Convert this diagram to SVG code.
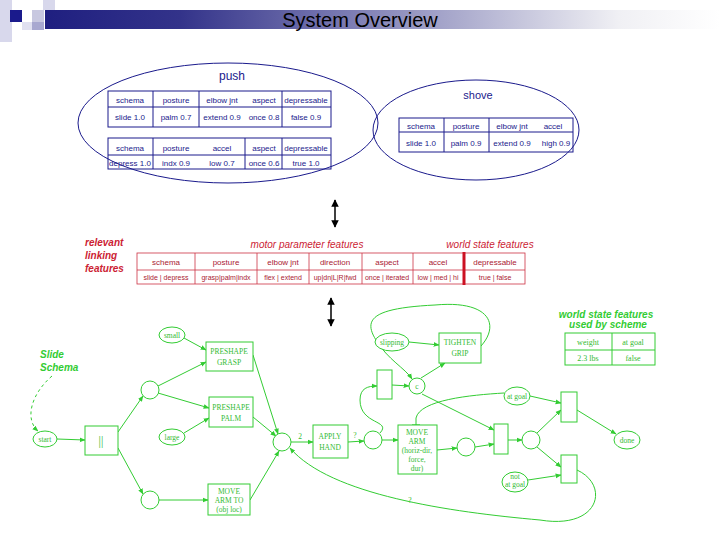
<svg xmlns="http://www.w3.org/2000/svg" width="720" height="540" viewBox="0 0 720 540">
<defs>
<linearGradient id="bar" x1="0" x2="1" y1="0" y2="0"><stop offset="0" stop-color="#1f1f80"/><stop offset="0.2" stop-color="#33338a"/><stop offset="0.85" stop-color="#f0f0f4"/><stop offset="1" stop-color="#ffffff"/></linearGradient>
<marker id="ga" viewBox="0 0 10 10" refX="9" refY="5" markerWidth="6" markerHeight="6" orient="auto"><path d="M0,1 L10,5 L0,9 z" fill="#33cc33"/></marker>
<marker id="ka" viewBox="0 0 10 10" refX="9" refY="5" markerWidth="5" markerHeight="5" orient="auto-start-reverse"><path d="M0,0 L10,5 L0,10 z" fill="#000"/></marker>
<marker id="tb" viewBox="0 0 10 10" refX="5" refY="5" markerWidth="8" markerHeight="8" orient="auto"><path d="M5,0 L5,10" stroke="#33cc33" stroke-width="1.5"/></marker>
</defs>
<style>
.b{fill:none;stroke:#1a1a8c;stroke-width:1}
.bt{font-family:"Liberation Sans",sans-serif;font-size:8px;fill:#1a1a8c;text-anchor:middle}
.r{fill:none;stroke:#cc3344;stroke-width:0.8}
.rt{font-family:"Liberation Sans",sans-serif;font-size:8px;fill:#aa2233;text-anchor:middle}
.rt7{font-family:"Liberation Sans",sans-serif;font-size:7px;fill:#aa2233;text-anchor:middle}
.rl{font-family:"Liberation Sans",sans-serif;font-size:10px;fill:#cc2233;font-style:italic}
.g{fill:#fff;stroke:#33cc33;stroke-width:1}
.gl{fill:none;stroke:#33cc33;stroke-width:1}
.ga{fill:none;stroke:#33cc33;stroke-width:1;marker-end:url(#ga)}
.gt{font-family:"Liberation Serif",serif;font-size:7.5px;fill:#33bb33;text-anchor:middle}
.gi{font-family:"Liberation Sans",sans-serif;font-size:10px;fill:#33cc33;font-weight:bold;font-style:italic}
</style>
<rect x="45" y="10" width="675" height="19" fill="url(#bar)"/>
<rect x="0" y="0" width="12" height="42" fill="#d8d8ec"/>
<rect x="10" y="10" width="12" height="12" fill="#1a1a8c"/>
<rect x="32" y="10" width="12" height="12" fill="#c8c8e0"/>
<rect x="43" y="0" width="12" height="10" fill="#d8d8ec"/>
<rect x="22" y="22" width="12" height="8" fill="#e0e0f0"/>
<rect x="32" y="22" width="12" height="8" fill="#a8a8d0"/>
<text x="360" y="27" font-family="Liberation Sans,sans-serif" font-size="20" text-anchor="middle" fill="#000">System Overview</text>

<g id="push">
<ellipse cx="228" cy="123" rx="150" ry="60" class="b"/>
<text x="232" y="80" class="bt" style="font-size:12px">push</text>
<rect x="108" y="91" width="223" height="36" class="b"/>
<path d="M108,107H331M153,91V127M199,91V127M282,91V127" class="b"/>
<text x="130" y="103" class="bt">schema</text><text x="176" y="103" class="bt">posture</text><text x="222" y="103" class="bt">elbow jnt</text><text x="264" y="103" class="bt">aspect</text><text x="306" y="103" class="bt">depressable</text>
<text x="130" y="120" class="bt">slide 1.0</text><text x="176" y="120" class="bt">palm 0.7</text><text x="222" y="120" class="bt">extend 0.9</text><text x="264" y="120" class="bt">once 0.8</text><text x="306" y="120" class="bt">false 0.9</text>
<rect x="108" y="138" width="223" height="31" class="b"/>
<path d="M108,155H331M153,138V169M245,138V169M282,138V169" class="b"/>
<text x="130" y="151" class="bt">schema</text><text x="176" y="151" class="bt">posture</text><text x="222" y="151" class="bt">accel</text><text x="264" y="151" class="bt">aspect</text><text x="306" y="151" class="bt">depressable</text>
<text x="130" y="166" class="bt">depress 1.0</text><text x="176" y="166" class="bt">indx 0.9</text><text x="222" y="166" class="bt">low 0.7</text><text x="264" y="166" class="bt">once 0.6</text><text x="306" y="166" class="bt">true 1.0</text>
</g>

<g id="shove">
<ellipse cx="476" cy="130" rx="103" ry="50" class="b"/>
<text x="478" y="99" class="bt" style="font-size:11px">shove</text>
<rect x="399" y="118" width="174" height="34" class="b"/>
<path d="M399,132H573M444,118V152M489,118V152" class="b"/>
<text x="421" y="129" class="bt">schema</text><text x="466" y="129" class="bt">posture</text><text x="512" y="129" class="bt">elbow jnt</text><text x="553" y="129" class="bt">accel</text>
<text x="421" y="146" class="bt">slide 1.0</text><text x="466" y="146" class="bt">palm 0.9</text><text x="512" y="146" class="bt">extend 0.9</text><text x="556" y="146" class="bt">high 0.9</text>
</g>

<g id="arrows">
<line x1="335" y1="200" x2="335" y2="227" stroke="#000" stroke-width="1.5" marker-start="url(#ka)" marker-end="url(#ka)"/>
<line x1="331" y1="298" x2="331" y2="326" stroke="#000" stroke-width="1.5" marker-start="url(#ka)" marker-end="url(#ka)"/>
</g>

<g id="features">
<text x="85" y="246" class="rl" font-weight="bold">relevant</text>
<text x="85" y="259" class="rl" font-weight="bold">linking</text>
<text x="85" y="272" class="rl" font-weight="bold">features</text>
<text x="307" y="248" class="rl" text-anchor="middle">motor parameter features</text>
<text x="490" y="248" class="rl" text-anchor="middle">world state features</text>
<rect x="137" y="253" width="388" height="31" class="r"/>
<path d="M137,270H525M195,253V284M257,253V284M309,253V284M362,253V284M413,253V284" class="r"/>
<line x1="464" y1="252" x2="464" y2="285" stroke="#cc1122" stroke-width="3"/>
<text x="166" y="265" class="rt">schema</text><text x="226" y="265" class="rt">posture</text><text x="283" y="265" class="rt">elbow jnt</text><text x="335" y="265" class="rt">direction</text><text x="387" y="265" class="rt">aspect</text><text x="438" y="265" class="rt">accel</text><text x="495" y="265" class="rt">depressable</text>
<text x="166" y="280" class="rt7">slide | depress</text><text x="226" y="280" class="rt7">grasp|palm|indx</text><text x="283" y="280" class="rt7">flex | extend</text><text x="335" y="280" class="rt7">up|dn|L|R|fwd</text><text x="387" y="280" class="rt7">once | iterated</text><text x="438" y="280" class="rt7">low | med | hi</text><text x="495" y="280" class="rt7">true | false</text>
</g>

<g id="connectors">
<path d="M52,376 C30,395 25,420 38,431" class="gl" stroke-dasharray="3,3" marker-end="url(#ga)"/>
<path d="M57,439 L85,440" class="ga"/>
<path d="M118,432 L143,396" class="ga"/>
<path d="M118,448 L143,494" class="ga"/>
<path d="M158,386 L206,362" class="ga"/>
<path d="M158,393 L209,408" class="ga"/>
<path d="M184,338 L206,350" class="ga"/>
<path d="M184,433 L209,418" class="ga"/>
<path d="M159,500 L208,500" class="ga"/>
<path d="M253,355 L278,434" class="ga"/>
<path d="M253,417 L276,436" class="ga"/>
<path d="M250,500 L279,451" class="ga"/>
<path d="M291,442 L313,442" class="ga"/>
<path d="M348,442 L364,441" class="ga"/>
<path d="M382,440 L398,440" class="ga"/>
<path d="M380,433 C392,420 360,425 360,400 C360,388 368,386 377,386" class="ga"/>
<path d="M392,385 L409,386" class="ga"/>
<path d="M421,378 L445,363" class="ga"/>
<path d="M409,342 L439,345" class="ga"/>
<path d="M481,346 C500,325 490,300 435,305 C375,308 362,318 376,340 C388,360 405,368 412,379" class="ga"/>
<path d="M422,394 L494,430" class="ga"/>
<path d="M437,450 L457,448" class="ga"/>
<path d="M475,447 L494,444" class="ga"/>
<path d="M508,440 L522,440" class="ga"/>
<path d="M537,433 L561,410" class="ga"/>
<path d="M537,447 L561,467" class="ga"/>
<path d="M530,396 L561,403" class="ga"/>
<path d="M528,480 L561,475" class="ga"/>
<path d="M577,410 L616,434" class="ga"/>
<path d="M504,393 C470,395 420,400 416,418 L416,425" class="gl" marker-end="url(#tb)"/>
<path d="M577,470 C610,485 600,530 540,520 C450,512 330,495 290,448" class="ga"/>
</g>

<g id="slide-label"><text x="40" y="358" class="gi">Slide</text><text x="40" y="371" class="gi">Schema</text></g>
<g id="start"><ellipse cx="45" cy="439" rx="12" ry="8" class="g"/><text x="45" y="442" class="gt">start</text></g>
<g id="par"><rect x="85" y="426" width="33" height="29" class="g"/><text x="101" y="445" class="gt" style="font-size:12px">||</text></g>
<g id="c1"><circle cx="150" cy="390" r="9" class="g"/></g>
<g id="c2"><circle cx="150" cy="500" r="9" class="g"/></g>
<g id="small"><ellipse cx="172" cy="335" rx="13" ry="8" class="g"/><text x="172" y="338" class="gt">small</text></g>
<g id="large"><ellipse cx="172" cy="437" rx="13" ry="8" class="g"/><text x="172" y="440" class="gt">large</text></g>
<g id="grasp"><rect x="206" y="342" width="47" height="29" class="g"/><text x="229" y="354" class="gt">PRESHAPE</text><text x="229" y="365" class="gt">GRASP</text></g>
<g id="palm"><rect x="209" y="397" width="44" height="30" class="g"/><text x="231" y="410" class="gt">PRESHAPE</text><text x="231" y="421" class="gt">PALM</text></g>
<g id="moveto"><rect x="208" y="484" width="42" height="31" class="g"/><text x="229" y="494" class="gt">MOVE</text><text x="229" y="503" class="gt">ARM TO</text><text x="229" y="512" class="gt">(obj loc)</text></g>
<g id="join"><circle cx="282" cy="442" r="9" class="g"/><text x="300" y="439" class="gt">2</text></g>
<g id="apply"><rect x="313" y="425" width="35" height="33" class="g"/><text x="330" y="439" class="gt">APPLY</text><text x="330" y="450" class="gt">HAND</text><text x="355" y="438" class="gt">?</text></g>
<g id="c3"><circle cx="373" cy="440" r="9" class="g"/></g>
<g id="movearm"><rect x="398" y="425" width="39" height="49" class="g"/><text x="417" y="435" class="gt">MOVE</text><text x="417" y="444" class="gt">ARM</text><text x="417" y="453" class="gt">(horiz-dir,</text><text x="417" y="462" class="gt">force,</text><text x="417" y="471" class="gt">dur)</text></g>
<g id="c4"><circle cx="466" cy="447" r="9" class="g"/></g>
<g id="r1"><rect x="494" y="424" width="14" height="30" class="g"/></g>
<g id="c5"><circle cx="531" cy="440" r="9" class="g"/></g>
<g id="r2"><rect x="561" y="392" width="16" height="30" class="g"/></g>
<g id="r3"><rect x="561" y="455" width="16" height="28" class="g"/></g>
<g id="done"><ellipse cx="627" cy="440" rx="13" ry="9" class="g"/><text x="627" y="443" class="gt">done</text></g>
<g id="atgoal"><ellipse cx="517" cy="396" rx="13" ry="9" class="g"/><text x="517" y="399" class="gt">at goal</text></g>
<g id="notatgoal"><ellipse cx="515" cy="482" rx="13" ry="10" class="g"/><text x="515" y="479" class="gt">not</text><text x="515" y="487" class="gt">at goal</text></g>
<g id="slipping"><ellipse cx="392" cy="342" rx="17" ry="9" class="g"/><text x="392" y="345" class="gt">slipping</text></g>
<g id="tighten"><rect x="439" y="333" width="42" height="30" class="g"/><text x="460" y="345" class="gt">TIGHTEN</text><text x="460" y="356" class="gt">GRIP</text></g>
<g id="r4"><rect x="377" y="370" width="15" height="29" class="g"/></g>
<g id="cc"><circle cx="417" cy="386" r="8" class="g"/><text x="417" y="389" class="gt">c</text></g>
<text x="410" y="503" class="gt">?</text>
<g id="wsf">
<text x="606" y="318" class="gi" text-anchor="middle">world state features</text>
<text x="608" y="328" class="gi" text-anchor="middle">used by scheme</text>
<rect x="565" y="333" width="90" height="32" class="g"/>
<path d="M565,350H655M612,333V365" class="gl"/>
<text x="588" y="345" class="gt" style="font-size:8px">weight</text><text x="633" y="345" class="gt" style="font-size:8px">at goal</text>
<text x="588" y="361" class="gt" style="font-size:8px">2.3 lbs</text><text x="633" y="361" class="gt" style="font-size:8px">false</text>
</g>
</svg>
